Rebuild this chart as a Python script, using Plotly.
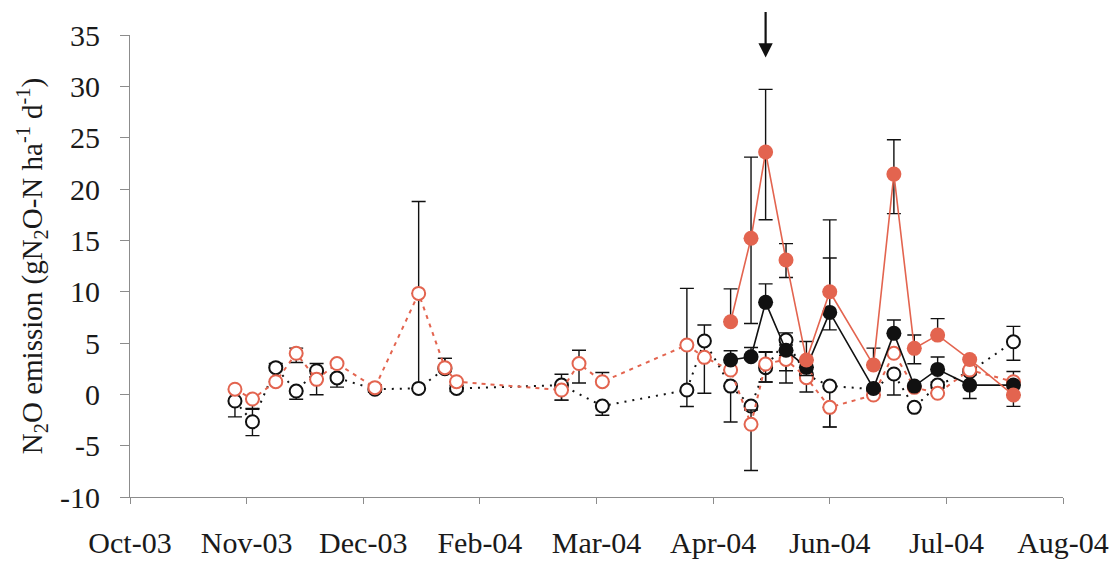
import plotly.graph_objects as go

RED = "#E3644F"
BLACK = "#111111"
AXIS = "#8c8c8c"
FONT = "'Liberation Serif', 'Times New Roman', 'DejaVu Serif', serif"

# Open symbols (dotted lines), sampled over the whole season
black_open_dates = ["2003-11-11", "2003-11-17", "2003-11-25", "2003-12-02", "2003-12-09",
                    "2003-12-16", "2003-12-29", "2004-01-13", "2004-01-22", "2004-01-26",
                    "2004-03-02", "2004-03-16", "2004-04-14", "2004-04-20", "2004-04-29",
                    "2004-05-06", "2004-05-11", "2004-05-18", "2004-05-25", "2004-06-02",
                    "2004-06-17", "2004-06-24", "2004-07-01", "2004-07-09", "2004-07-20",
                    "2004-08-04"]
black_open = [-0.65, -2.67, 2.6, 0.32, 2.3, 1.6, 0.5, 0.58, 2.5, 0.58,
              0.9, -1.14, 0.42, 5.2, 0.8, -1.14, 2.6, 5.29, 1.9, 0.81,
              0.5, 1.98, -1.27, 0.9, 2.2, 5.12]
black_open_plus = [0, 1.3, 0.4, 0, 0.7, 0, 0.3, 18.2, 1.0, 0.3,
                   1.05, 0, 9.9, 1.55, 0, 0, 1.5, 0.7, 0, 0,
                   0, 0, 0, 0.3, 0.3, 1.5]
black_open_minus = [1.55, 1.35, 0, 0.8, 0, 0.9, 0.3, 0, 0, 0.3,
                    1.46, 0.9, 1.6, 5.1, 3.5, 0, 1.4, 3.0, 0, 4.0,
                    0, 2.05, 0, 0.3, 0.3, 1.8]

red_open_dates = ["2003-11-11", "2003-11-17", "2003-11-25", "2003-12-02", "2003-12-09",
                  "2003-12-16", "2003-12-29", "2004-01-13", "2004-01-22", "2004-01-26",
                  "2004-03-02", "2004-03-08", "2004-03-16", "2004-04-14", "2004-04-20",
                  "2004-04-29", "2004-05-06", "2004-05-11", "2004-05-18", "2004-05-25",
                  "2004-06-02", "2004-06-17", "2004-06-24", "2004-07-01", "2004-07-09",
                  "2004-07-20", "2004-08-04"]
red_open = [0.5, -0.46, 1.23, 4.0, 1.46, 3.0, 0.65, 9.83, 2.6, 1.23,
            0.42, 3.0, 1.23, 4.8, 3.6, 2.37, -2.92, 2.95, 3.4, 1.62,
            -1.27, -0.07, 4.0, 0.68, 0.1, 2.37, 1.23]
red_open_plus = [0, 0, 0, 0.5, 0, 0, 0.3, 0, 0.9, 0,
                 0, 1.3, 0.9, 0, 0, 0, 1.4, 1.2, 0, 0,
                 0, 0, 0, 0, 0, 0, 1.0]
red_open_minus = [0, 1.0, 0, 0.9, 1.5, 0, 0.3, 0, 0, 0,
                  0.98, 1.9, 0, 0, 0, 0, 4.5, 1.75, 2.3, 1.4,
                  1.9, 0, 0, 0, 0, 0, 0]

# Filled symbols (solid lines), spring/summer period
filled_dates = ["2004-04-29", "2004-05-06", "2004-05-11", "2004-05-18", "2004-05-25",
                "2004-06-02", "2004-06-17", "2004-06-24", "2004-07-01", "2004-07-09",
                "2004-07-20", "2004-08-04"]
black_filled = [3.34, 3.66, 8.96, 4.3, 2.63, 7.98, 0.58, 5.94, 0.8, 2.43, 0.9, 0.9]
black_filled_plus = [0.9, 0.9, 1.8, 0.5, 0, 5.3, 0, 1.3, 0, 1.2, 0, 0]
black_filled_minus = [0, 0, 0, 0.5, 0.8, 1.7, 0, 0, 0, 0, 1.3, 0]
red_filled = [7.07, 15.2, 23.6, 13.08, 3.34, 9.99, 2.85, 21.45, 4.48, 5.77, 3.4, -0.07]
red_filled_plus = [3.2, 7.9, 6.1, 1.6, 1.8, 7.0, 1.65, 3.35, 1.3, 1.6, 0, 0]
red_filled_minus = [0, 8.3, 6.6, 1.7, 0, 0, 0, 3.85, 1.5, 0, 0, 1.1]

y_ticks = [-10, -5, 0, 5, 10, 15, 20, 25, 30, 35]
y_tick_text = ["-10", "-5", "0", "5", "10", "15", "20", "25", "30", "35"]

arrow_date = "2004-05-11"


def err(plus, minus):
    return dict(type="data", symmetric=False, array=plus, arrayminus=minus,
                color=BLACK, thickness=1.4, width=7)


fig = go.Figure()

fig.add_trace(go.Scatter(
    x=black_open_dates, y=black_open, mode="lines+markers",
    line=dict(color=BLACK, width=2, dash="2px,6px"),
    marker=dict(symbol="circle", size=13, color="white", line=dict(color=BLACK, width=2)),
    error_y=err(black_open_plus, black_open_minus), showlegend=False))

fig.add_trace(go.Scatter(
    x=red_open_dates, y=red_open, mode="lines+markers",
    line=dict(color=RED, width=2, dash="4px,5px"),
    marker=dict(symbol="circle", size=13, color="white", line=dict(color=RED, width=2)),
    error_y=err(red_open_plus, red_open_minus), showlegend=False))

fig.add_trace(go.Scatter(
    x=filled_dates, y=black_filled, mode="lines+markers",
    line=dict(color=BLACK, width=1.6),
    marker=dict(symbol="circle", size=15, color=BLACK),
    error_y=err(black_filled_plus, black_filled_minus), showlegend=False))

fig.add_trace(go.Scatter(
    x=filled_dates, y=red_filled, mode="lines+markers",
    line=dict(color=RED, width=1.6),
    marker=dict(symbol="circle", size=15, color=RED),
    error_y=err(red_filled_plus, red_filled_minus), showlegend=False))

fig.add_annotation(
    x=arrow_date, y=32.8, xref="x", yref="y", text="",
    showarrow=True, ax=0, ay=-47, arrowhead=2, arrowsize=1.3,
    arrowwidth=2.2, arrowcolor=BLACK)

fig.update_layout(
    width=1118, height=564,
    margin=dict(l=130, r=55, t=35, b=67),
    paper_bgcolor="white", plot_bgcolor="white",
    font=dict(family=FONT, size=30, color="#1a1a1a"),
)

fig.update_xaxes(
    type="date", range=["2003-10-06", "2004-08-21"], automargin=False,
    tick0="2003-10-06", dtick=40 * 86400000, tickformat="%b-%y",
    showgrid=False, zeroline=False, showline=True, linecolor=AXIS, linewidth=1,
    ticks="outside", ticklen=6, tickcolor=AXIS, tickwidth=1,
    ticklabelstandoff=13, tickfont=dict(family=FONT, size=30, color="#1a1a1a"))

fig.update_yaxes(
    range=[-10, 35], tickvals=y_ticks, ticktext=y_tick_text, automargin=False,
    showgrid=False, zeroline=False, showline=True, linecolor=AXIS, linewidth=1,
    ticks="outside", ticklen=9, tickcolor=AXIS, tickwidth=1,
    ticklabelstandoff=14, tickfont=dict(family=FONT, size=30, color="#1a1a1a"),
    title=dict(text="N<sub>2</sub>O emission (gN<sub>2</sub>O-N ha<sup>-1</sup> d<sup>-1</sup>)",
               font=dict(family=FONT, size=29, color="#1a1a1a"), standoff=8))

fig.write_html("out.html")
